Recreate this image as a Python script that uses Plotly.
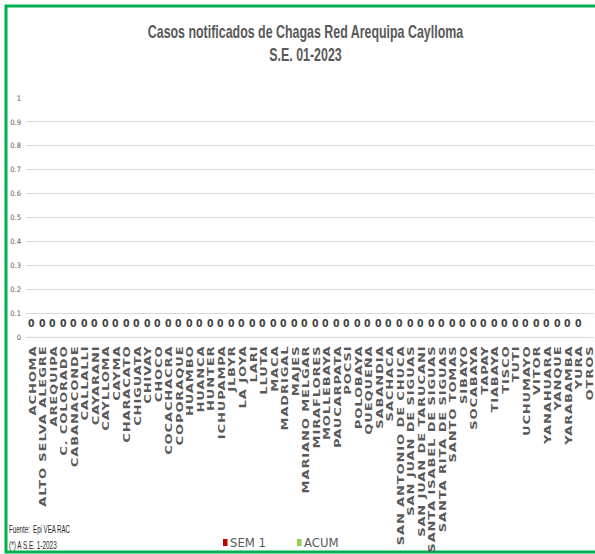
import json
import plotly.graph_objects as go

# Districts of the Red Arequipa Caylloma network
categories = [
    "ACHOMA", "ALTO SELVA ALEGRE", "AREQUIPA", "C. COLORADO", "CABANACONDE",
    "CALLALLI", "CAYARANI", "CAYLLOMA", "CAYMA", "CHARACATO", "CHIGUATA",
    "CHIVAY", "CHOCO", "COCACHACRA", "COPORAQUE", "HUAMBO", "HUANCA",
    "HUNTER", "ICHUPAMPA", "JLBYR", "LA JOYA", "LARI", "LLUTA", "MACA",
    "MADRIGAL", "MAJES", "MARIANO MELGAR", "MIRAFLORES", "MOLLEBAYA",
    "PAUCARPATA", "POCSI", "POLOBAYA", "QUEQUEÑA", "SABANDIA", "SACHACA",
    "SAN ANTONIO DE CHUCA", "SAN JUAN DE SIGUAS", "SAN JUAN DE TARUCANI",
    "SANTA ISABEL DE SIGUAS", "SANTA RITA DE SIGUAS", "SANTO TOMAS",
    "SIBAYO", "SOCABAYA", "TAPAY", "TIABAYA", "TISCO", "TUTI", "UCHUMAYO",
    "VITOR", "YANAHUARA", "YANQUE", "YARABAMBA", "YURA", "OTROS",
]

# Cases in epidemiological week 1 and accumulated to week 1 (OTROS has no entry)
sem1 = [0] * 53 + [None]
acum = [0] * 53 + [None]

series_names = ["SEM 1", "ACUM"]
series_colors = ["#c00000", "#92d050"]

y_ticks = [0, 0.1, 0.2, 0.3, 0.4, 0.5, 0.6, 0.7, 0.8, 0.9, 1]
y_tick_text = ["0", "0.1", "0.2", "0.3", "0.4", "0.5", "0.6", "0.7", "0.8", "0.9", "1"]

COND = "DejaVu Sans Condensed, DejaVu Sans, sans-serif"
SANS = "Liberation Sans, Arial, sans-serif"
GRAY = "#595959"

# plot area in pixels
LEFT, RIGHT, TOP, BOTTOM = 26, 594, 98, 337


def px(pixel_x):
    return (pixel_x - LEFT) / (RIGHT - LEFT)


def py(pixel_y):
    return (BOTTOM - pixel_y) / (BOTTOM - TOP)


fig = go.Figure()
for name, values, color in zip(series_names, [sem1, acum], series_colors):
    fig.add_trace(go.Bar(x=categories, y=values, name=name, marker_color=color))

annotations = []
shapes = []
condensed = []  # (annotation index, target width in px, transform origin)

# value labels above each category
for cat, v in zip(categories, acum):
    if v is not None:
        annotations.append(dict(
            x=cat, y=v, xref="x", yref="y", text=str(v), showarrow=False,
            yshift=14, font=dict(family=COND, size=10.5, color="#404040",
                                 weight="bold"),
        ))

# title
condensed.append((len(annotations), 316, "center"))
annotations.append(dict(
    x=px(305), y=py(43.5), xref="paper", yref="paper", showarrow=False,
    text="Casos notificados de Chagas Red Arequipa Caylloma<br>S.E. 01-2023",
    font=dict(family=SANS, size=17.5, color=GRAY, weight="bold"),
    align="center", yanchor="middle",
))

# footnotes
for text, yy, w in [("Fuente:  Epi VEA RAC", 529, 61), ("(*) A S.E. 1-2023", 545, 48)]:
    condensed.append((len(annotations), w, "left center"))
    annotations.append(dict(
        x=px(7), y=py(yy), xref="paper", yref="paper", showarrow=False,
        xanchor="left", yanchor="middle", text=text,
        font=dict(family=SANS, size=10, color="#262626"),
    ))

# legend: small swatch right next to each series name
for name, color, x0 in zip(series_names, series_colors, [223, 297]):
    shapes.append(dict(
        type="rect", xref="paper", yref="paper",
        x0=px(x0), x1=px(x0 + 4.5), y0=py(546), y1=py(539),
        line=dict(width=0), fillcolor=color,
    ))
    annotations.append(dict(
        x=px(x0 + 5), y=py(542), xref="paper", yref="paper",
        showarrow=False, xanchor="left", yanchor="middle", text=name,
        font=dict(family=COND, size=13, color=GRAY),
    ))

# green frame around the chart
shapes.append(dict(
    type="rect", xref="paper", yref="paper",
    x0=px(6), x1=px(612), y0=py(552), y1=py(6),
    line=dict(color="#00b050", width=3), fillcolor="rgba(0,0,0,0)",
    layer="below",
))

fig.update_layout(
    width=595, height=554,
    margin=dict(l=LEFT, r=595 - RIGHT, t=TOP, b=554 - BOTTOM, autoexpand=False),
    paper_bgcolor="white", plot_bgcolor="white",
    barmode="group", bargap=0.3,
    annotations=annotations, shapes=shapes,
    showlegend=False,
)

fig.update_xaxes(
    type="category", tickangle=-90, showgrid=False, ticks="",
    tickmode="array", tickvals=categories, ticktext=categories,
    tickfont=dict(family="DejaVu Sans, Verdana, sans-serif", size=13,
                  color=GRAY, weight="bold"),
    ticklabelstandoff=5, showline=False, automargin=False,
)
fig.update_yaxes(
    range=[0, 1], tickvals=y_ticks, ticktext=y_tick_text,
    showgrid=True, gridcolor="#d9d9d9", gridwidth=1, zeroline=True,
    zerolinecolor="#d9d9d9", zerolinewidth=1, showline=False, ticks="",
    tickfont=dict(family=COND, size=7.5, color=GRAY),
    ticklabelstandoff=4, automargin=False,
)

# District labels are set with thin glyphs (compressed across the text line)
# and a little tracking; title and footnotes are condensed to fixed widths.
post = """
var gd = document.getElementsByClassName('plotly-graph-div')[0];
var condensed = %s;
var K = 0.7;
function restyleText() {
  gd.querySelectorAll('.xtick text').forEach(function (t) {
    var tr = t.getAttribute('transform') || '';
    if (t.dataset.applied === tr) return;
    var x = parseFloat(t.getAttribute('x')) || 0;
    var y = parseFloat(t.getAttribute('y')) || 0;
    var nt = tr + ' translate(' + x + ',' + y + ') scale(1,' + K + ') translate(' + (-x) + ',' + (-y) + ')';
    t.setAttribute('transform', nt);
    t.dataset.applied = nt;
    t.style.letterSpacing = '0.9px';
  });
  condensed.forEach(function (s) {
    var t = gd.querySelector('.annotation[data-index="' + s[0] + '"] text.annotation-text');
    if (!t) return;
    t.style.transform = '';
    var w = t.getBBox().width;
    if (!w) return;
    t.style.transformBox = 'fill-box';
    t.style.transformOrigin = s[2];
    t.style.transform = 'scaleX(' + (s[1] / w) + ')';
  });
}
restyleText();
gd.on('plotly_afterplot', restyleText);
""" % json.dumps(condensed)

fig.write_html("out.html", post_script=post)
